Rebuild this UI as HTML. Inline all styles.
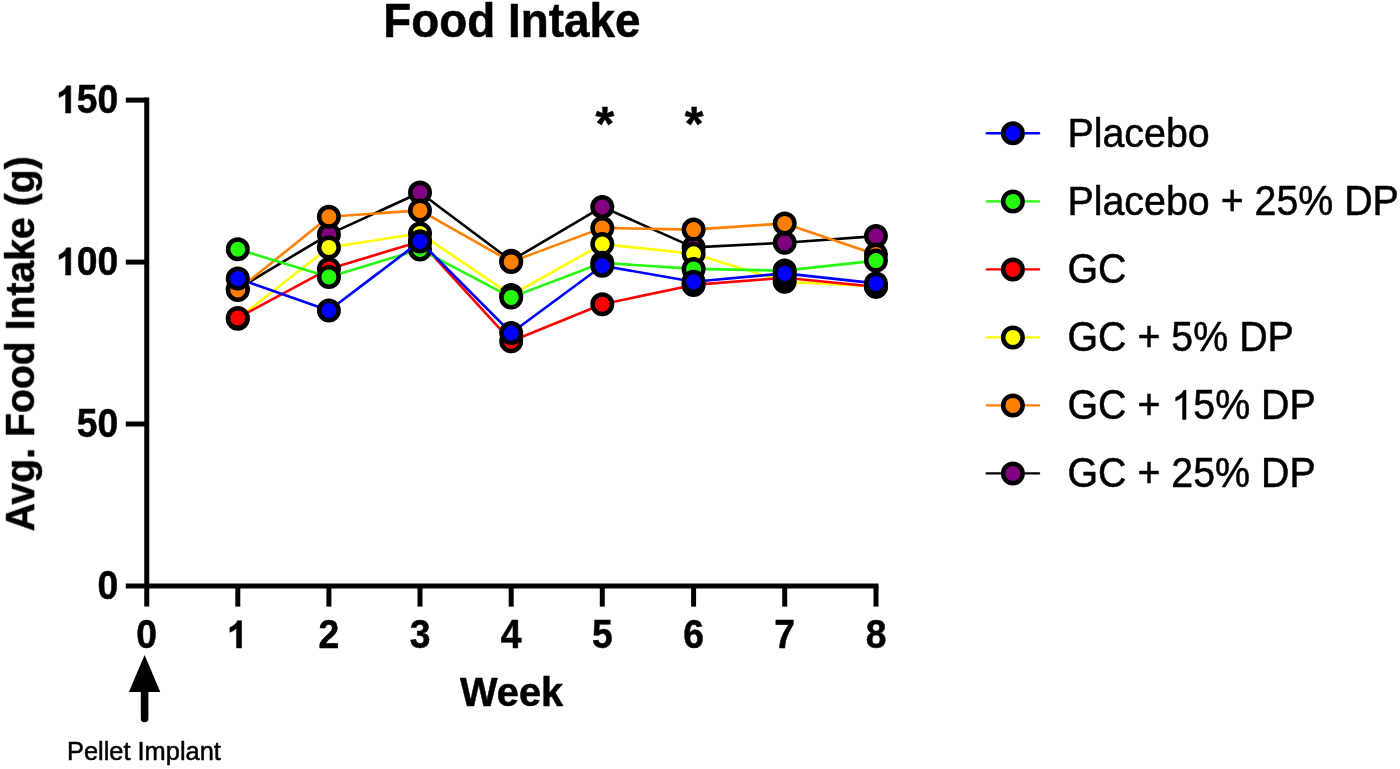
<!DOCTYPE html>
<html><head><meta charset="utf-8"><title>Food Intake</title>
<style>
html,body{margin:0;padding:0;background:#fff;}
body{width:1400px;height:769px;overflow:hidden;font-family:"Liberation Sans",sans-serif;}
svg{display:block;will-change:transform}
text{font-family:"Liberation Sans",sans-serif;fill:#000;stroke:#000;stroke-width:0.5px;stroke-linejoin:round}
.b{font-weight:bold}
</style></head><body>
<svg width="1400" height="769" viewBox="0 0 1400 769">
<rect width="1400" height="769" fill="#fff"/>
<defs><filter id="soft" filterUnits="userSpaceOnUse" x="0" y="0" width="1400" height="769" color-interpolation-filters="sRGB"><feGaussianBlur stdDeviation="0.4"/></filter></defs>
<g filter="url(#soft)">
<text class="b" transform="translate(511.9 36.9) scale(1 1.045)" font-size="45.85" text-anchor="middle">Food Intake</text>
<g stroke="#000" stroke-width="5.0" fill="none" stroke-linecap="butt">
<line x1="146.75" y1="97.6" x2="146.75" y2="606.6"/>
<line x1="125.8" y1="586.0" x2="878.5" y2="586.0"/>
<line x1="125.8" y1="100.1" x2="146.75" y2="100.1"/>
<line x1="125.8" y1="262.1" x2="146.75" y2="262.1"/>
<line x1="125.8" y1="424.0" x2="146.75" y2="424.0"/>
<line x1="237.8" y1="586.0" x2="237.8" y2="606.6"/>
<line x1="328.9" y1="586.0" x2="328.9" y2="606.6"/>
<line x1="420.0" y1="586.0" x2="420.0" y2="606.6"/>
<line x1="511.2" y1="586.0" x2="511.2" y2="606.6"/>
<line x1="602.3" y1="586.0" x2="602.3" y2="606.6"/>
<line x1="693.6" y1="586.0" x2="693.6" y2="606.6"/>
<line x1="784.7" y1="586.0" x2="784.7" y2="606.6"/>
<line x1="876.0" y1="586.0" x2="876.0" y2="606.6"/>
</g>
<text class="b" transform="translate(118.3 113.1) scale(1 1.065)" font-size="37.3" text-anchor="end">50</text>
<path d="M806 0H525V1059Q371 915 162 846V1101Q272 1137 401 1237Q530 1338 578 1472H806Z" transform="translate(56.07 113.1) scale(0.01821 -0.01856)" fill="#000" stroke="#000" stroke-width="0.5" vector-effect="non-scaling-stroke"/>
<text class="b" transform="translate(118.3 275.1) scale(1 1.065)" font-size="37.3" text-anchor="end">00</text>
<path d="M806 0H525V1059Q371 915 162 846V1101Q272 1137 401 1237Q530 1338 578 1472H806Z" transform="translate(56.07 275.1) scale(0.01821 -0.01856)" fill="#000" stroke="#000" stroke-width="0.5" vector-effect="non-scaling-stroke"/>
<text class="b" transform="translate(118.3 437.0) scale(1 1.065)" font-size="37.3" text-anchor="end">50</text>
<text class="b" transform="translate(118.3 599.0) scale(1 1.065)" font-size="37.3" text-anchor="end">0</text>
<text class="b" transform="translate(146.6 648.0) scale(1 1.065)" font-size="37.3" text-anchor="middle">0</text>
<path d="M806 0H525V1059Q371 915 162 846V1101Q272 1137 401 1237Q530 1338 578 1472H806Z" transform="translate(226.93 648.0) scale(0.01821 -0.01856)" fill="#000" stroke="#000" stroke-width="0.5" vector-effect="non-scaling-stroke"/>
<text class="b" transform="translate(328.9 648.0) scale(1 1.065)" font-size="37.3" text-anchor="middle">2</text>
<text class="b" transform="translate(420.0 648.0) scale(1 1.065)" font-size="37.3" text-anchor="middle">3</text>
<text class="b" transform="translate(511.2 648.0) scale(1 1.065)" font-size="37.3" text-anchor="middle">4</text>
<text class="b" transform="translate(602.3 648.0) scale(1 1.065)" font-size="37.3" text-anchor="middle">5</text>
<text class="b" transform="translate(693.6 648.0) scale(1 1.065)" font-size="37.3" text-anchor="middle">6</text>
<text class="b" transform="translate(784.7 648.0) scale(1 1.065)" font-size="37.3" text-anchor="middle">7</text>
<text class="b" transform="translate(876.0 648.0) scale(1 1.065)" font-size="37.3" text-anchor="middle">8</text>
<text class="b" transform="translate(511.6 705.8) scale(1 1.045)" font-size="39.8" text-anchor="middle">Week</text>
<text class="b" transform="translate(33.7 343.8) rotate(-90) scale(1 1.045)" font-size="39.2" text-anchor="middle">Avg. Food Intake (g)</text>
<text class="b" transform="translate(604.8 139.9) scale(1 1)" font-size="48" text-anchor="middle">*</text>
<text class="b" transform="translate(694.0 139.9) scale(1 1)" font-size="48" text-anchor="middle">*</text>
<line x1="144.6" y1="688" x2="144.6" y2="718.5" stroke="#000" stroke-width="7.6" stroke-linecap="round"/>
<polygon points="144.6,655.1 128.9,691.9 160.3,691.9" fill="#000"/>
<text transform="translate(67 760.4) scale(1 1.045)" font-size="25.4" text-anchor="start">Pellet Implant</text>
<polyline points="237.8,288.9 328.9,234.4 420.0,192.5 511.2,260.7 602.3,206.9 693.6,247.4 784.7,242.8 876.0,236.1" fill="none" stroke="#000000" stroke-width="2.6" stroke-linejoin="round"/>
<g fill="#800080" stroke="#000" stroke-width="4.5">
<circle cx="237.8" cy="288.9" r="9.75"/>
<circle cx="328.9" cy="234.4" r="9.75"/>
<circle cx="420.0" cy="192.5" r="9.75"/>
<circle cx="511.2" cy="260.7" r="9.75"/>
<circle cx="602.3" cy="206.9" r="9.75"/>
<circle cx="693.6" cy="247.4" r="9.75"/>
<circle cx="784.7" cy="242.8" r="9.75"/>
<circle cx="876.0" cy="236.1" r="9.75"/>
</g>
<polyline points="237.8,289.9 328.9,216.7 420.0,210.4 511.2,261.9 602.3,227.9 693.6,229.6 784.7,223.4 876.0,254.4" fill="none" stroke="#FF8000" stroke-width="2.6" stroke-linejoin="round"/>
<g fill="#FF8000" stroke="#000" stroke-width="4.5">
<circle cx="237.8" cy="289.9" r="9.75"/>
<circle cx="328.9" cy="216.7" r="9.75"/>
<circle cx="420.0" cy="210.4" r="9.75"/>
<circle cx="511.2" cy="261.9" r="9.75"/>
<circle cx="602.3" cy="227.9" r="9.75"/>
<circle cx="693.6" cy="229.6" r="9.75"/>
<circle cx="784.7" cy="223.4" r="9.75"/>
<circle cx="876.0" cy="254.4" r="9.75"/>
</g>
<polyline points="237.8,318.7 328.9,247.4 420.0,233.4 511.2,295.1 602.3,244.1 693.6,253.8 784.7,281.7 876.0,286.4" fill="none" stroke="#FFFF00" stroke-width="2.6" stroke-linejoin="round"/>
<g fill="#FFFF00" stroke="#000" stroke-width="4.5">
<circle cx="237.8" cy="318.7" r="9.75"/>
<circle cx="328.9" cy="247.4" r="9.75"/>
<circle cx="420.0" cy="233.4" r="9.75"/>
<circle cx="511.2" cy="295.1" r="9.75"/>
<circle cx="602.3" cy="244.1" r="9.75"/>
<circle cx="693.6" cy="253.8" r="9.75"/>
<circle cx="784.7" cy="281.7" r="9.75"/>
<circle cx="876.0" cy="286.4" r="9.75"/>
</g>
<polyline points="237.8,317.9 328.9,268.9 420.0,241.4 511.2,341.2 602.3,304.3 693.6,284.9 784.7,277.8 876.0,286.7" fill="none" stroke="#FF0000" stroke-width="2.6" stroke-linejoin="round"/>
<g fill="#FF0000" stroke="#000" stroke-width="4.5">
<circle cx="237.8" cy="317.9" r="9.75"/>
<circle cx="328.9" cy="268.9" r="9.75"/>
<circle cx="420.0" cy="241.4" r="9.75"/>
<circle cx="511.2" cy="341.2" r="9.75"/>
<circle cx="602.3" cy="304.3" r="9.75"/>
<circle cx="693.6" cy="284.9" r="9.75"/>
<circle cx="784.7" cy="277.8" r="9.75"/>
<circle cx="876.0" cy="286.7" r="9.75"/>
</g>
<polyline points="237.8,249.3 328.9,276.9 420.0,249.4 511.2,297.4 602.3,262.8 693.6,268.9 784.7,270.6 876.0,260.6" fill="none" stroke="#26F90F" stroke-width="2.6" stroke-linejoin="round"/>
<g fill="#26F90F" stroke="#000" stroke-width="4.5">
<circle cx="237.8" cy="249.3" r="9.75"/>
<circle cx="328.9" cy="276.9" r="9.75"/>
<circle cx="420.0" cy="249.4" r="9.75"/>
<circle cx="511.2" cy="297.4" r="9.75"/>
<circle cx="602.3" cy="262.8" r="9.75"/>
<circle cx="693.6" cy="268.9" r="9.75"/>
<circle cx="784.7" cy="270.6" r="9.75"/>
<circle cx="876.0" cy="260.6" r="9.75"/>
</g>
<polyline points="237.8,278.6 328.9,310.5 420.0,241.4 511.2,333.0 602.3,265.8 693.6,281.7 784.7,273.4 876.0,283.4" fill="none" stroke="#0000FF" stroke-width="2.6" stroke-linejoin="round"/>
<g fill="#0000FF" stroke="#000" stroke-width="4.5">
<circle cx="237.8" cy="278.6" r="9.75"/>
<circle cx="328.9" cy="310.5" r="9.75"/>
<circle cx="420.0" cy="241.4" r="9.75"/>
<circle cx="511.2" cy="333.0" r="9.75"/>
<circle cx="602.3" cy="265.8" r="9.75"/>
<circle cx="693.6" cy="281.7" r="9.75"/>
<circle cx="784.7" cy="273.4" r="9.75"/>
<circle cx="876.0" cy="283.4" r="9.75"/>
</g>
<line x1="986.8" y1="133.3" x2="1039.0" y2="133.3" stroke="#0000FF" stroke-width="2.4" stroke-linecap="round"/>
<circle cx="1012.9" cy="133.3" r="9.75" fill="#0000FF" stroke="#000" stroke-width="4.5"/>
<text transform="translate(1067.5 147.3) scale(1 1.04)" font-size="39.35" text-anchor="start">Placebo</text>
<line x1="986.8" y1="201.4" x2="1039.0" y2="201.4" stroke="#26F90F" stroke-width="2.4" stroke-linecap="round"/>
<circle cx="1012.9" cy="201.4" r="9.75" fill="#26F90F" stroke="#000" stroke-width="4.5"/>
<text transform="translate(1067.5 215.4) scale(1 1.04)" font-size="39.35" text-anchor="start">Placebo</text>
<text transform="translate(1220.634521484375 215.4) scale(1 1.075)" font-size="39.35" text-anchor="start">+ 25% DP</text>
<line x1="986.8" y1="269.4" x2="1039.0" y2="269.4" stroke="#FF0000" stroke-width="2.4" stroke-linecap="round"/>
<circle cx="1012.9" cy="269.4" r="9.75" fill="#FF0000" stroke="#000" stroke-width="4.5"/>
<text transform="translate(1067.5 283.4) scale(1 1.075)" font-size="39.35" text-anchor="start">GC</text>
<line x1="986.8" y1="337.4" x2="1039.0" y2="337.4" stroke="#FFFF00" stroke-width="2.4" stroke-linecap="round"/>
<circle cx="1012.9" cy="337.4" r="9.75" fill="#FFFF00" stroke="#000" stroke-width="4.5"/>
<text transform="translate(1067.5 351.4) scale(1 1.075)" font-size="39.35" text-anchor="start">GC + 5% DP</text>
<line x1="986.8" y1="405.4" x2="1039.0" y2="405.4" stroke="#FF8000" stroke-width="2.4" stroke-linecap="round"/>
<circle cx="1012.9" cy="405.4" r="9.75" fill="#FF8000" stroke="#000" stroke-width="4.5"/>
<text transform="translate(1067.5 419.4) scale(1 1.075)" font-size="39.35" text-anchor="start">GC +</text>
<path d="M763 0H583V1147Q518 1085 412 1023Q307 961 223 930V1104Q374 1175 487 1276Q600 1377 647 1472H763Z" transform="translate(1171.37 419.4) scale(0.01921 -0.01977)" fill="#000" stroke="#000" stroke-width="0.5" vector-effect="non-scaling-stroke"/>
<text transform="translate(1193.2547607421875 419.4) scale(1 1.075)" font-size="39.35" text-anchor="start">5% DP</text>
<line x1="986.8" y1="473.4" x2="1039.0" y2="473.4" stroke="#000000" stroke-width="2.4" stroke-linecap="round"/>
<circle cx="1012.9" cy="473.4" r="9.75" fill="#800080" stroke="#000" stroke-width="4.5"/>
<text transform="translate(1067.5 487.4) scale(1 1.075)" font-size="39.35" text-anchor="start">GC + 25% DP</text>
</g>
</svg>
</body></html>
